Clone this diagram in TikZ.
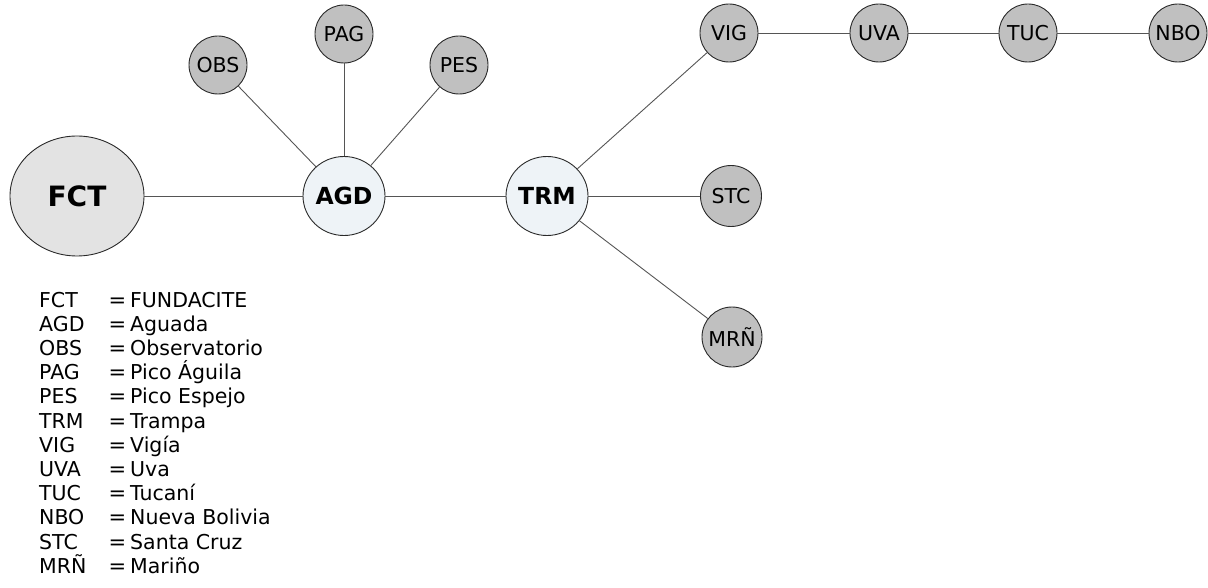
\documentclass[tikz,border=0pt]{standalone}
\usepackage{fontspec}
\setmainfont{DejaVu Sans}
\usetikzlibrary{shapes.geometric}
\definecolor{smallfill}{HTML}{C0C0C0}
\definecolor{bigfill}{HTML}{E3E3E3}
\definecolor{hubfill}{HTML}{EEF3F7}
\definecolor{edgecol}{HTML}{555555}
\definecolor{rimcol}{HTML}{2A2A2A}
\tikzset{
  station/.style={circle, draw=rimcol, line width=0.9pt, fill=smallfill, inner sep=0pt,
    minimum size=58pt, font=\fontsize{20.5}{24}\selectfont},
  hub/.style={ellipse, draw=rimcol, line width=0.9pt, fill=hubfill, inner sep=0pt,
    minimum width=82pt, minimum height=79pt, font=\fontsize{23.5}{27}\selectfont\bfseries},
  root/.style={ellipse, draw=rimcol, line width=0.9pt, fill=bigfill, inner sep=0pt,
    minimum width=134pt, minimum height=120pt, font=\fontsize{28}{32}\selectfont\bfseries},
  link/.style={draw=edgecol, line width=0.9pt},
  legend/.style={anchor=base west, inner sep=0pt, font=\fontsize{20.5}{24}\selectfont},
  legendeq/.style={anchor=base, inner sep=0pt, font=\fontsize{21}{24}\selectfont}
}
\begin{document}
\begin{tikzpicture}[x=1pt,y=-1pt]
\useasboundingbox (0,0) rectangle (1208,588);
\node[root] (FCT) at (77,196) {FCT};
\node[hub] (AGD) at (344,196) {AGD};
\node[hub] (TRM) at (547,196) {TRM};
\node[station] (OBS) at (218,65) {OBS};
\node[station] (PAG) at (344,34) {PAG};
\node[station] (PES) at (459,65) {PES};
\node[station, minimum size=61pt] (STC) at (731,196) {STC};
\node[station, minimum size=60pt] (MRN) at (732,337) {MRÑ};
\node[station] (VIG) at (729,33) {VIG};
\node[station] (UVA) at (879,33) {UVA};
\node[station] (TUC) at (1028,33) {TUC};
\node[station] (NBO) at (1178,33) {NBO};

\path[link] (FCT) -- (AGD);
\path[link] (AGD) -- (OBS);
\path[link] (AGD) -- (PAG);
\path[link] (AGD) -- (PES);
\path[link] (AGD) -- (TRM);
\path[link] (TRM) -- (VIG);
\path[link] (TRM) -- (STC);
\path[link] (TRM) -- (MRN);
\path[link] (VIG) -- (UVA);
\path[link] (UVA) -- (TUC);
\path[link] (TUC) -- (NBO);

\foreach \ab/\nm [count=\i from 0] in {FCT/FUNDACITE, AGD/Aguada, OBS/Observatorio, PAG/Pico Águila, PES/Pico Espejo, TRM/Trampa, VIG/Vigía, UVA/Uva, TUC/Tucaní, NBO/Nueva Bolivia, STC/Santa Cruz, MRÑ/Mariño}{
  \node[legend] (ab\i) at (39,307+24.2*\i) {\ab};
  \node[legendeq] (eq\i) at (117.5,307+24.2*\i) {=};
  \node[legend] (nm\i) at (130,307+24.2*\i) {\nm};
}
\end{tikzpicture}
\end{document}
